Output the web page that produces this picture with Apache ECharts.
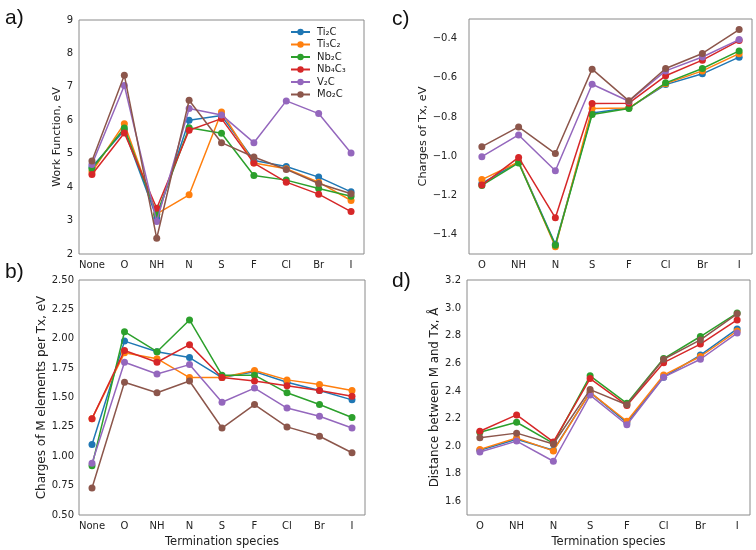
<!DOCTYPE html>
<html>
<head>
<meta charset="utf-8">
<script src="https://cdn.jsdelivr.net/npm/echarts@6/dist/echarts.min.js"></script>
<style>html,body{margin:0;padding:0;background:#fff}#c{width:756px;height:550px}</style>
</head>
<body>
<div id="c"></div>
<script>
// ---- data ----
const catsAB = ['None','O','NH','N','S','F','Cl','Br','I'];
const catsCD = ['O','NH','N','S','F','Cl','Br','I'];
const seriesNames = ['Ti\u2082C','Ti\u2083C\u2082','Nb\u2082C','Nb\u2084C\u2083','V\u2082C','Mo\u2082C'];

// a) Work function, eV
const wfTi2C  = [4.60, 5.70, 3.08, 6.00, 6.14, 4.80, 4.62, 4.30, 3.86];
const wfTi3C2 = [4.46, 5.90, 3.20, 3.77, 6.25, 4.72, 4.55, 4.15, 3.60];
const wfNb2C  = [4.55, 5.77, 3.19, 5.78, 5.61, 4.35, 4.21, 3.96, 3.73];
const wfNb4C3 = [4.38, 5.62, 3.37, 5.70, 6.05, 4.72, 4.15, 3.79, 3.27];
const wfV2C   = [4.68, 7.04, 2.97, 6.35, 6.16, 5.33, 6.58, 6.20, 5.02];
const wfMo2C  = [4.78, 7.35, 2.47, 6.60, 5.33, 4.90, 4.53, 4.11, 3.80];

// b) Charges of M elements per Tx, eV
const cmTi2C  = [1.10, 1.98, 1.89, 1.84, 1.67, 1.72, 1.63, 1.56, 1.48];
const cmTi3C2 = [1.32, 1.88, 1.83, 1.67, 1.67, 1.73, 1.65, 1.61, 1.56];
const cmNb2C  = [0.92, 2.06, 1.89, 2.16, 1.69, 1.69, 1.54, 1.44, 1.33];
const cmNb4C3 = [1.32, 1.90, 1.80, 1.95, 1.67, 1.64, 1.60, 1.56, 1.51];
const cmV2C   = [0.94, 1.80, 1.70, 1.78, 1.46, 1.58, 1.41, 1.34, 1.24];
const cmMo2C  = [0.73, 1.63, 1.54, 1.64, 1.24, 1.44, 1.25, 1.17, 1.03];

// c) Charges of Tx, eV
const ctTi2C  = [-1.14, -1.03, -1.450, -0.780, -0.755, -0.635, -0.580, -0.495];
const ctTi3C2 = [-1.12, -1.03, -1.463, -0.757, -0.755, -0.630, -0.565, -0.477];
const ctNb2C  = [-1.15, -1.035, -1.455, -0.788, -0.757, -0.626, -0.553, -0.463];
const ctNb4C3 = [-1.148, -1.007, -1.315, -0.732, -0.730, -0.590, -0.510, -0.410];
const ctV2C   = [-1.003, -0.892, -1.075, -0.633, -0.720, -0.565, -0.494, -0.405];
const ctMo2C  = [-0.952, -0.851, -0.987, -0.556, -0.718, -0.553, -0.476, -0.354];

// d) Distance between M and Tx, Å
const dTi2C  = [1.970, 2.050, 1.970, 2.390, 2.170, 2.500, 2.660, 2.850];
const dTi3C2 = [1.976, 2.058, 1.965, 2.390, 2.180, 2.515, 2.650, 2.835];
const dNb2C  = [2.100, 2.173, 2.020, 2.510, 2.310, 2.635, 2.795, 2.965];
const dNb4C3 = [2.108, 2.226, 2.030, 2.490, 2.295, 2.605, 2.740, 2.915];
const dV2C   = [1.957, 2.036, 1.890, 2.370, 2.155, 2.500, 2.630, 2.820];
const dMo2C  = [2.060, 2.094, 2.015, 2.410, 2.300, 2.630, 2.770, 2.960];

const yTicksC = [-1.4, -1.2, -1.0, -0.8, -0.6, -0.4];
const yTicksD = [1.6, 1.8, 2.0, 2.2, 2.4, 2.6, 2.8, 3.0, 3.2];

// ---- styling / build ----
const colors = ['#1f77b4','#ff7f0e','#2ca02c','#d62728','#9467bd','#8c564b'];
const FONT = 'DejaVu Sans';
const TXT = '#222';
const panels = [
  [wfTi2C, wfTi3C2, wfNb2C, wfNb4C3, wfV2C, wfMo2C],
  [cmTi2C, cmTi3C2, cmNb2C, cmNb4C3, cmV2C, cmMo2C],
  [ctTi2C, ctTi3C2, ctNb2C, ctNb4C3, ctV2C, ctMo2C],
  [dTi2C, dTi3C2, dNb2C, dNb4C3, dV2C, dMo2C]
];
const series = [];
panels.forEach((arrs, p) => {
  arrs.forEach((vals, i) => {
    series.push({
      name: seriesNames[i], type: 'line', xAxisIndex: p, yAxisIndex: p,
      data: vals.map((v, k) => [k, v]),
      symbol: 'circle', symbolSize: 7,
      lineStyle: { width: 1.5, color: colors[i] },
      itemStyle: { color: colors[i] },
      animation: false, z: 2 + i
    });
  });
});

const gridBase = { show: true, borderColor: '#8a8a8a', borderWidth: 1, backgroundColor: 'transparent' };
const grids = [
  Object.assign({ left: 79, top: 20, width: 285, height: 234 }, gridBase),
  Object.assign({ left: 79, top: 280, width: 286, height: 235 }, gridBase),
  Object.assign({ left: 469, top: 19, width: 283, height: 235 }, gridBase),
  Object.assign({ left: 467, top: 280, width: 283, height: 235 }, gridBase)
];

function xAx(grid, cats, withName) {
  const ax = {
    type: 'value', gridIndex: grid,
    min: -0.05 * (cats.length - 1), max: (cats.length - 1) * 1.05,
    axisLine: { show: false }, axisTick: { show: false }, splitLine: { show: false },
    axisLabel: {
      customValues: cats.map((c, k) => k),
      formatter: v => cats[Math.round(v)],
      fontFamily: FONT, fontSize: 10, color: TXT, margin: 6
    }
  };
  if (withName) {
    ax.name = 'Termination species';
    ax.nameLocation = 'middle';
    ax.nameGap = 21;
    ax.nameTextStyle = { fontFamily: FONT, fontSize: 11.5, color: TXT };
  }
  return ax;
}
function yAx(grid, opts, name, gap, fs) {
  return Object.assign({
    type: 'value', gridIndex: grid,
    axisLine: { show: false }, axisTick: { show: false }, splitLine: { show: false },
    name: name, nameLocation: 'middle', nameGap: gap, nameRotate: 90,
    nameTextStyle: { fontFamily: FONT, fontSize: fs, color: TXT }
  }, opts);
}
const lab = (extra) => Object.assign({ fontFamily: FONT, fontSize: 10, color: TXT, margin: 6 }, extra);

const option = {
  backgroundColor: '#fff',
  animation: false,
  title: [
    { text: 'a)', left: 0, top: 3, textStyle: { fontFamily: 'Liberation Sans', fontSize: 21, fontWeight: 'normal', color: '#111' } },
    { text: 'b)', left: 0, top: 257, textStyle: { fontFamily: 'Liberation Sans', fontSize: 21, fontWeight: 'normal', color: '#111' } },
    { text: 'c)', left: 387, top: 4, textStyle: { fontFamily: 'Liberation Sans', fontSize: 21, fontWeight: 'normal', color: '#111' } },
    { text: 'd)', left: 387, top: 266, textStyle: { fontFamily: 'Liberation Sans', fontSize: 21, fontWeight: 'normal', color: '#111' } }
  ],
  legend: {
    data: seriesNames, orient: 'vertical', left: 290, top: 26,
    itemWidth: 19, itemHeight: 8, itemGap: 0.5, padding: 0,
    textStyle: { fontFamily: FONT, fontSize: 10, color: TXT, lineHeight: 12, padding: [0, 0, 0, 2] }
  },
  grid: grids,
  xAxis: [ xAx(0, catsAB, false), xAx(1, catsAB, true), xAx(2, catsCD, false), xAx(3, catsCD, true) ],
  yAxis: [
    yAx(0, { min: 2, max: 9, interval: 1, axisLabel: lab({}) }, 'Work Function, eV', 15, 11),
    yAx(1, { min: 0.5, max: 2.5, interval: 0.25, axisLabel: lab({ margin: 5, formatter: v => v.toFixed(2) }) }, 'Charges of M elements per Tx, eV', 31, 12),
    yAx(2, { min: -1.5, max: -0.3, axisLabel: lab({ margin: 12, customValues: yTicksC, formatter: v => (v < 0 ? '\u2212' : '') + Math.abs(v).toFixed(1) }) }, 'Charges of Tx, eV', 33, 11.3),
    yAx(3, { min: 1.5, max: 3.205, axisLabel: lab({ customValues: yTicksD, formatter: v => v.toFixed(1) }) }, 'Distance between M and Tx, \u00C5', 26, 11.8)
  ],
  series: series
};
const chart = echarts.init(document.getElementById('c'), null, { renderer: 'canvas' });
chart.setOption(option);
</script>
</body>
</html>
